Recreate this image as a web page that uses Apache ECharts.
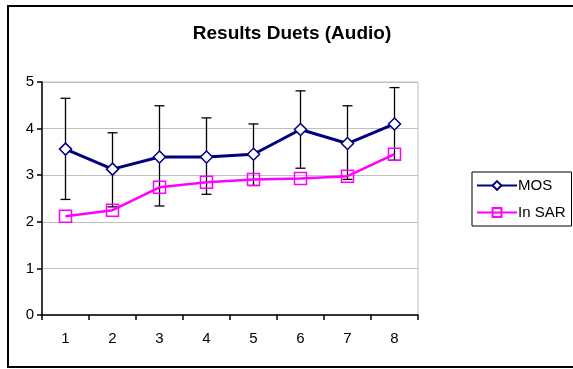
<!DOCTYPE html>
<html><head><meta charset="utf-8">
<script src="https://cdn.jsdelivr.net/npm/echarts@6/dist/echarts.min.js"></script>
<style>html,body{margin:0;padding:0;background:#fff}#c{width:573px;height:369px}</style>
</head><body><div id="c"></div>
<script>
var categories = ['1','2','3','4','5','6','7','8'];
var mosValues = [3.56, 3.13, 3.39, 3.39, 3.45, 3.98, 3.68, 4.10];
var mosErrLow = [2.48, 2.32, 2.34, 2.59, 2.78, 3.15, 2.91, 3.32];
var mosErrHigh = [4.65, 3.91, 4.49, 4.23, 4.10, 4.81, 4.49, 4.88];
var sarValues = [2.12, 2.25, 2.74, 2.85, 2.91, 2.93, 2.98, 3.45];
var yTicks = [0, 1, 2, 3, 4, 5];

var errData = categories.map(function(c, i){ return [i, mosErrLow[i], mosErrHigh[i]]; });
var font = 'Liberation Sans, Arial, sans-serif';
var chart = echarts.init(document.getElementById('c'), null, {renderer:'canvas'});
chart.setOption({
  animation: false,
  backgroundColor: '#fff',
  title: {
    text: 'Results Duets (Audio)', left: 287, top: 19, textAlign: 'center',
    textStyle: {fontFamily: font, fontWeight: 'bold', fontSize: 19, color: '#000'}
  },
  graphic: [{
    type: 'rect', shape: {x: 8, y: 6, width: 570, height: 361},
    style: {fill: 'none', stroke: '#000', lineWidth: 2}, z: 100
  }],
  legend: {
    orient: 'vertical', left: 472, top: 172,
    padding: [6, 6, 6, 4], itemGap: 12,
    borderColor: '#000', borderWidth: 1,
    itemWidth: 40, itemHeight: 11,
    textStyle: {fontFamily: font, fontSize: 15, color: '#000', padding: [0,0,0,-4]},
    data: [{name: 'MOS'}, {name: 'In SAR'}]
  },
  grid: {left: 42, right: 155, top: 82, bottom: 54, show: true, borderColor: '#c0c0c0', borderWidth: 1},
  xAxis: {
    type: 'category', data: categories, boundaryGap: true,
    axisLine: {lineStyle: {color: '#000', width: 1.5}},
    axisTick: {show: true, inside: false, length: 5, lineStyle: {color: '#000', width: 1.5}},
    axisLabel: {fontFamily: font, fontSize: 15, color: '#000', margin: 16},
    splitLine: {show: false}
  },
  yAxis: {
    type: 'value', min: yTicks[0], max: yTicks[yTicks.length-1], interval: 1,
    axisLine: {show: true, lineStyle: {color: '#000', width: 1.5}},
    axisTick: {show: true, length: 5, lineStyle: {color: '#000', width: 1.5}},
    axisLabel: {fontFamily: font, fontSize: 15, color: '#000', margin: 8},
    splitLine: {show: true, lineStyle: {color: '#c0c0c0', width: 1}}
  },
  series: [
    {
      type: 'custom', name: 'err', silent: true, z: 3,
      renderItem: function(params, api){
        var x = api.coord([api.value(0), api.value(1)])[0];
        var lo = api.coord([api.value(0), api.value(1)])[1];
        var hi = api.coord([api.value(0), api.value(2)])[1];
        var w = 5;
        var st = {stroke: '#000', lineWidth: 1.3};
        return {type: 'group', children: [
          {type: 'line', shape: {x1: x, y1: lo, x2: x, y2: hi}, style: st},
          {type: 'line', shape: {x1: x-w, y1: lo, x2: x+w, y2: lo}, style: st},
          {type: 'line', shape: {x1: x-w, y1: hi, x2: x+w, y2: hi}, style: st}
        ]};
      },
      encode: {x: 0, y: [1, 2]},
      data: errData
    },
    {
      type: 'line', name: 'MOS', data: mosValues, z: 4,
      symbol: 'diamond', symbolSize: 12, showAllSymbol: true,
      lineStyle: {color: '#000080', width: 3},
      itemStyle: {color: '#fff', borderColor: '#000080', borderWidth: 1.5}
    },
    {
      type: 'line', name: 'In SAR', data: sarValues, z: 5,
      symbol: 'rect', symbolSize: 12, showAllSymbol: true,
      lineStyle: {color: '#ff00ff', width: 2.5},
      itemStyle: {color: 'rgba(255,255,255,0)', borderColor: '#ff00ff', borderWidth: 1.5}
    }
  ]
});
</script></body></html>
